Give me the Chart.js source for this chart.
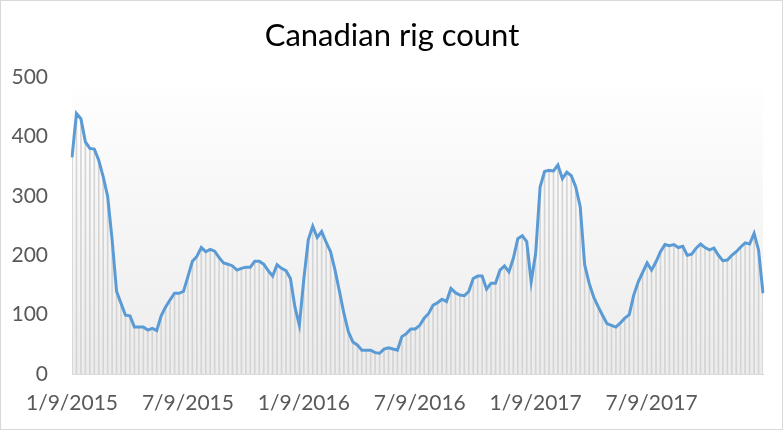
<!DOCTYPE html>
<html>
<head>
<meta charset="utf-8">
<script src="https://cdn.jsdelivr.net/npm/chart.js@4/dist/chart.umd.min.js"></script>
<style>
  html, body { margin: 0; padding: 0; background: #fff; }
  #wrap { width: 784px; height: 433px; }
</style>
</head>
<body>
<div id="wrap"><canvas id="rigs" width="784" height="433"></canvas></div>
<script>
// weekly Canadian rig count, first week 1/9/2015
const rigCount = [
  365, 439, 430, 391, 380, 379, 360, 332, 299, 226,
  139, 119, 99, 98, 79, 79, 79, 74, 77, 73,
  98, 113, 125, 136, 136, 139, 164, 190, 198, 213,
  206, 210, 207, 196, 187, 185, 182, 175, 178, 180,
  180, 190, 190, 185, 174, 165, 184, 178, 174, 161,
  113, 82, 160, 226, 249, 230, 240, 222, 206, 175,
  139, 102, 71, 54, 49, 40, 40, 40, 36, 35,
  42, 44, 42, 40, 63, 68, 76, 76, 82, 94,
  102, 116, 120, 126, 122, 144, 137, 133, 132, 139,
  161, 165, 165, 143, 153, 153, 175, 182, 172, 195,
  228, 233, 223, 155, 203, 315, 341, 343, 342, 352,
  329, 340, 334, 315, 282, 184, 153, 130, 114, 99,
  85, 82, 79, 86, 94, 100, 133, 155, 171, 187,
  175, 189, 206, 218, 216, 218, 213, 215, 200, 202,
  212, 219, 213, 209, 212, 200, 191, 192, 200, 206,
  214, 221, 219, 237, 209, 136
];

const tickIndexes = [0, 26, 52, 78, 104, 130];
const tickLabels = ["1/9/2015", "7/9/2015", "1/9/2016", "7/9/2016", "1/9/2017", "7/9/2017"];

const firstWeek = new Date(2015, 0, 9);
const weeks = rigCount.map((_, i) => {
  const d = new Date(firstWeek.getTime() + i * 7 * 86400000);
  return (d.getMonth() + 1) + "/" + d.getDate() + "/" + d.getFullYear();
});

const fontName = "Lato, 'Open Sans', sans-serif";

const plotBackground = {
  id: "plotBackground",
  beforeDraw(chart) {
    const { ctx, chartArea: area, width, height } = chart;
    ctx.save();
    ctx.fillStyle = "#ffffff";
    ctx.fillRect(0, 0, width, height);
    const grad = ctx.createLinearGradient(0, area.top, 0, area.bottom);
    grad.addColorStop(0, "#ffffff");
    grad.addColorStop(1, "#ececec");
    ctx.fillStyle = grad;
    ctx.fillRect(area.left, area.top, area.right - area.left, area.bottom - area.top);
    ctx.strokeStyle = "#d9d9d9";
    ctx.lineWidth = 1;
    ctx.strokeRect(0.5, 0.5, width - 2, height - 4);
    ctx.restore();
  },
};

new Chart(document.getElementById("rigs"), {
  data: {
    labels: weeks,
    datasets: [
      {
        type: "line",
        data: rigCount,
        borderColor: "#5b9bd5",
        borderWidth: 3,
        pointRadius: 0,
        tension: 0,
        order: 0,
      },
      {
        type: "bar",
        data: rigCount,
        backgroundColor: "#d4d4d4",
        barThickness: 1,
        order: 1,
      },
    ],
  },
  options: {
    responsive: false,
    animation: false,
    layout: { padding: 0 },
    plugins: {
      legend: { display: false },
      tooltip: { enabled: false },
      title: {
        display: true,
        text: "Canadian rig count",
        color: "#000000",
        font: { family: fontName, size: 31, weight: "normal" },
        padding: { top: 17, bottom: 23 },
      },
    },
    scales: {
      x: {
        offset: false,
        grid: { display: false, drawTicks: false },
        border: { display: true, color: "#d9d9d9", width: 1 },
        afterBuildTicks(scale) {
          scale.ticks = tickIndexes.map((v) => ({ value: v }));
        },
        afterFit(scale) {
          scale.height = 59;
        },
        ticks: {
          autoSkip: false,
          maxRotation: 0,
          padding: 17,
          color: "#595959",
          font: { family: fontName, size: 21 },
          callback: (value) => tickLabels[tickIndexes.indexOf(value)],
        },
      },
      y: {
        min: 0,
        max: 500,
        grid: { display: false, drawTicks: false },
        border: { display: false },
        afterFit(scale) {
          scale.width = 72;
        },
        ticks: {
          stepSize: 100,
          padding: 24,
          color: "#595959",
          font: { family: fontName, size: 21 },
        },
      },
      // empty right-hand margin so the plot ends at the same place as the original
      spacer: {
        position: "right",
        min: 0,
        max: 500,
        grid: { display: false, drawTicks: false },
        border: { display: false },
        ticks: { display: false },
        afterFit(scale) {
          scale.width = 21;
        },
      },
    },
  },
  plugins: [plotBackground],
});
</script>
</body>
</html>
